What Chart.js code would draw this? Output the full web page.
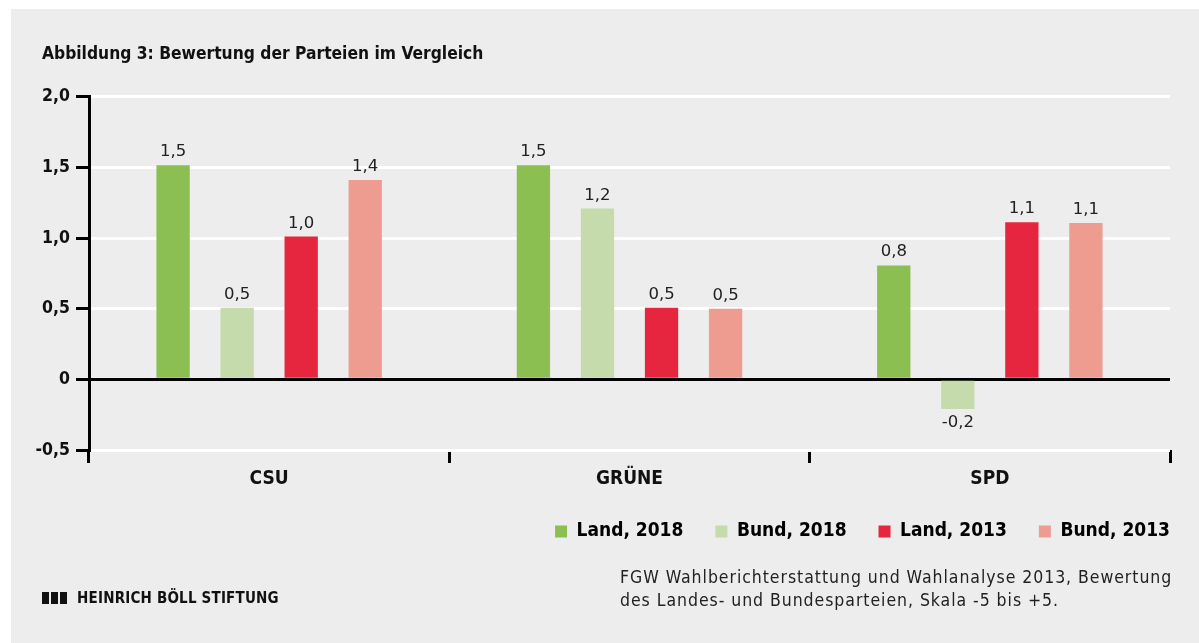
<!DOCTYPE html>
<html>
<head>
<meta charset="utf-8">
<script src="https://cdn.jsdelivr.net/npm/chart.js@4/dist/chart.umd.min.js"></script>
<style>
  html, body { margin: 0; padding: 0; background: #ffffff; }
  #wrap { position: relative; width: 1199px; height: 643px; overflow: hidden; }
  #panel { position: absolute; left: 11px; top: 9px; right: 0; bottom: 0; background: #ededed; }
  #c { position: absolute; left: 0; top: 0; }
  .src { position: absolute; left: 620px; top: 566px; font-family: 'DejaVu Sans Condensed', 'Liberation Sans Narrow', sans-serif; font-size: 17.5px; letter-spacing: 0.95px; line-height: 23px; color: #222; white-space: nowrap; }
  .logo { position: absolute; left: 42px; top: 589px; font-family: 'DejaVu Sans Condensed', sans-serif; font-weight: bold; font-size: 15px; color: #111; display: flex; align-items: center; }
  .logo .sq { display: inline-block; width: 7px; height: 12px; background: #111; margin-right: 2px; }
  .logo .t { margin-left: 8px; letter-spacing: 0.2px; }
</style>
</head>
<body>
<div id="wrap">
  <div id="panel"></div>
  <canvas id="c" width="1199" height="643"></canvas>
  <div class="logo"><span class="sq"></span><span class="sq"></span><span class="sq"></span><span class="t">HEINRICH BÖLL STIFTUNG</span></div>
  <div class="src">FGW Wahlberichterstattung und Wahlanalyse 2013, Bewertung<br>des Landes- und Bundesparteien, Skala -5 bis +5.</div>
</div>
<script>
const categories = ['CSU', 'GRÜNE', 'SPD'];
const seriesNames = ['Land, 2018', 'Bund, 2018', 'Land, 2013', 'Bund, 2013'];
const land2018 = [1.515, 1.515, 0.806];
const bund2018 = [0.506, 1.209, -0.209];
const land2013 = [1.011, 0.507, 1.112];
const bund2013 = [1.41, 0.5, 1.107];
const yTickValues = [2.0, 1.5, 1.0, 0.5, 0, -0.5];
const yTickLabels = ['2,0', '1,5', '1,0', '0,5', '0', '-0,5'];
const colors = ['#8cbf51', '#c5dbab', '#e5263e', '#ee9b90'];

const condBold = "'DejaVu Sans Condensed', 'Liberation Sans Narrow', sans-serif";

const fmt = v => v.toFixed(1).replace('.', ',');

const valueLabels = {
  id: 'valueLabels',
  afterDatasetsDraw(chart) {
    const ctx = chart.ctx;
    ctx.save();
    ctx.font = "16.5px 'DejaVu Sans', sans-serif";
    ctx.fillStyle = '#222';
    ctx.textAlign = 'center';
    chart.data.datasets.forEach((ds, i) => {
      const meta = chart.getDatasetMeta(i);
      meta.data.forEach((bar, j) => {
        const v = ds.data[j];
        if (v >= 0) {
          ctx.textBaseline = 'bottom';
          ctx.fillText(fmt(v), bar.x, bar.y - 5);
        } else {
          ctx.textBaseline = 'top';
          ctx.fillText(fmt(v), bar.x, bar.y + 6);
        }
      });
    });
    ctx.restore();
  }
};

const blockShift = {
  id: 'blockShift',
  afterLayout(chart) {
    const lg = chart.legend;
    if (lg) {
      const dx = 32, dy = -16;
      lg.left += dx; lg.right += dx;
      lg.top += dy; lg.bottom += dy;
    }
    const tb = chart.titleBlock;
    if (tb) {
      tb.left += 12; tb.right += 12;
    }
  }
};

const series = [land2018, bund2018, land2013, bund2013];

new Chart(document.getElementById('c'), {
  type: 'bar',
  data: {
    labels: categories,
    datasets: series.map((d, i) => ({
      label: seriesNames[i],
      data: d,
      backgroundColor: colors[i],
      borderWidth: 0,
      categoryPercentage: 0.711,
      barPercentage: 0.52
    }))
  },
  options: {
    responsive: false,
    animation: false,
    devicePixelRatio: 1,
    layout: { padding: { left: 30, right: 29, top: 44, bottom: 76 } },
    plugins: {
      title: {
        display: true,
        text: 'Abbildung 3: Bewertung der Parteien im Vergleich',
        align: 'start',
        color: '#111',
        font: { family: condBold, size: 17.3, weight: 'bold' },
        padding: { top: 0, bottom: 32 },
        fullSize: true
      },
      legend: {
        position: 'bottom',
        align: 'end',
        labels: {
          color: '#111',
          boxWidth: 12,
          boxHeight: 12,
          padding: 32,
          font: { family: condBold, size: 19, weight: 'bold' },
          generateLabels(chart) {
            return chart.data.datasets.map((ds, i) => ({
              text: ds.label,
              fillStyle: ds.backgroundColor,
              strokeStyle: ds.backgroundColor,
              lineWidth: 0,
              datasetIndex: i,
              hidden: false
            }));
          }
        }
      },
      tooltip: { enabled: false }
    },
    scales: {
      x: {
        grid: {
          offset: true,
          drawOnChartArea: false,
          drawTicks: true,
          tickLength: 13,
          tickWidth: 3,
          tickColor: '#000'
        },
        border: { display: false },
        ticks: {
          color: '#111',
          padding: 5,
          font: { family: condBold, size: 19, weight: 'bold' }
        },
        afterFit(scale) { scale.height = 56; }
      },
      y: {
        min: -0.5,
        max: 2.0,
        afterBuildTicks(scale) {
          scale.ticks = yTickValues.map(v => ({ value: v }));
        },
        grid: {
          color: c => (c.tick && c.tick.value === 0) ? '#000' : '#ffffff',
          lineWidth: 3,
          tickColor: '#000',
          tickWidth: 3,
          tickLength: 13
        },
        border: { display: true, color: '#000', width: 3 },
        ticks: {
          color: '#111',
          padding: 6,
          font: { family: condBold, size: 17.5, weight: 'bold' },
          callback: (v) => {
            const idx = yTickValues.indexOf(v);
            return idx >= 0 ? yTickLabels[idx] : '';
          }
        },
        afterFit(scale) { scale.width = 59; }
      }
    }
  },
  plugins: [valueLabels, blockShift]
});
</script>
</body>
</html>
